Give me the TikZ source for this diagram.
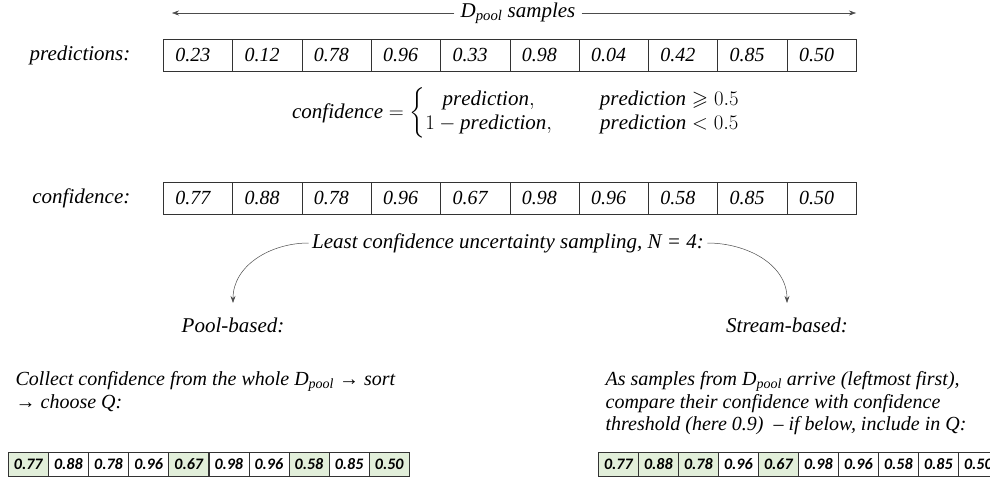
\documentclass[tikz,border=0pt]{standalone}
\usepackage{amsmath}
\usepackage{amssymb}
\usepackage{fontspec}
\setmainfont{Liberation Serif}
\newfontfamily\qcellfont{Carlito}
\usetikzlibrary{calc, arrows.meta}
\definecolor{pickgreen}{HTML}{E2EFDA}
\tikzset{
  cell/.style={draw=black!80, anchor=west, minimum height=32, text width=45.3, inner xsep=12, align=left, font=\fontsize{20}{24}\selectfont\itshape},
  qcell/.style={draw=black!80, anchor=west, minimum height=24, minimum width=40, inner sep=0, font=\qcellfont\fontsize{16}{18}\selectfont\bfseries\itshape},
  picked/.style={fill=pickgreen},
  plain/.style={},
  txt/.style={font=\fontsize{21}{23}\selectfont\itshape},
  para/.style={font=\fontsize{20}{22.5}\selectfont\itshape, anchor=north west, align=left},
  link/.style={->, draw=black!70, line width=0.5pt}
}

\begin{document}
\begin{tikzpicture}[x=1pt, y=1pt, >={Stealth[length=7pt, width=5pt]}, semithick]
            \useasboundingbox[fill=white] (0, 0) rectangle (990, -477);
            \node[txt, fill=white, inner xsep=6] (dp) at (518, -13) {D\textsubscript{pool} samples};
            \coordinate (al) at (172, -13);
            \coordinate (ar) at (856, -13);
            \draw[link] (dp.west) -- (al);
            \draw[link] (dp.east) -- (ar);
            \node[txt, anchor=east] (predlab) at (134, -55) {predictions:};
            \foreach \v [count=\i] in {0.23, 0.12, 0.78, 0.96, 0.33, 0.98, 0.04, 0.42, 0.85, 0.50}
                \node[cell] (p\i) at ({163+(\i-1)*69.3}, -55) {\v};
            \node[font=\fontsize{21}{25}\selectfont] (conf) at (516, -113) {\(\mathit{confidence} = \left\{\renewcommand{\arraystretch}{0.95}\begin{array}{@{}c@{\qquad\;}c@{}} \mathit{prediction}, & \mathit{prediction} \geqslant 0.5\\ 1 - \mathit{prediction}, & \mathit{prediction} < 0.5 \end{array}\right.\)};
            \node[txt, anchor=east] (conflab) at (134, -198) {confidence:};
            \foreach \v [count=\i] in {0.77, 0.88, 0.78, 0.96, 0.67, 0.98, 0.96, 0.58, 0.85, 0.50}
                \node[cell] (c\i) at ({163+(\i-1)*69.3}, -198) {\v};
            \node[txt] (lcs) at (508, -243) {Least confidence uncertainty sampling, N = 4:};
            \node[txt] (pool) at (233, -325) {Pool-based:};
            \node[txt] (stream) at (787, -325) {Stream-based:};
            \draw[link] (lcs.west) to[out=180, in=90] ($(pool.north)+(0, 11)$);
            \draw[link] (lcs.east) to[out=0, in=90] ($(stream.north)+(0, 11)$);
            \node[para] (pooltxt) at (12, -368) {Collect confidence from the whole D\textsubscript{pool} → sort\\→ choose Q:};
            \node[para] (streamtxt) at (602, -368) {As samples from D\textsubscript{pool} arrive (leftmost first),\\compare their confidence with confidence\\threshold (here 0.9) \ – if below, include in Q:};
            \foreach \v/\s [count=\i] in {0.77/picked, 0.88/plain, 0.78/plain, 0.96/plain, 0.67/picked, 0.98/plain, 0.96/plain, 0.58/picked, 0.85/plain, 0.50/picked}
                \node[qcell, \s] (l\i) at ({8+(\i-1)*40.1}, -464) {\v};
            \foreach \v/\s [count=\i] in {0.77/picked, 0.88/picked, 0.78/picked, 0.96/plain, 0.67/picked, 0.98/plain, 0.96/plain, 0.58/plain, 0.85/plain, 0.50/plain}
                \node[qcell, \s] (r\i) at ({598+(\i-1)*40}, -464) {\v};
        \end{tikzpicture}
\end{document}
